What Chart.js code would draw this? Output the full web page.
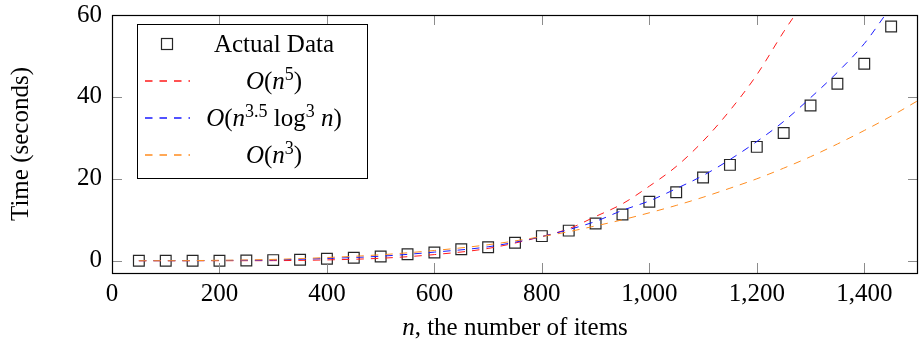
<!DOCTYPE html>
<html>
<head>
<meta charset="UTF-8">
<title>Time vs number of items</title>
<script src="https://cdn.jsdelivr.net/npm/chart.js"></script>
<style>
  *{padding:0;margin:0;}
  body{background:#fff;}
</style>
</head>
<body>
<canvas id="myChart" width="919" height="351"></canvas>
<script>
// measured run times (seconds) for n items
const sizes = [50,100,150,200,250,300,350,400,450,500,550,600,650,700,750,800,850,900,950,1000,1050,1100,1150,1200,1250,1300,1350,1400,1450];
const actualTimes = [0,0,0,0,0.07,0.15,0.25,0.5,0.73,1.05,1.6,2.0,2.8,3.3,4.4,6.0,7.35,9.1,11.3,14.4,16.7,20.3,23.4,27.8,31.2,37.9,43.2,48.1,57.2];

// fitted curves
const n5X = [50,100,200,300,400,500,600,700,800,850,900,950,1000,1050,1100,1150,1200,1250,1271];
const n5Y = [0,0,0,0.02,0.2,0.6,1.5,3.0,5.9,7.8,10.8,13.9,18.2,23.0,29.2,36.7,45.4,55.9,60];

const nlogX = [50,100,200,300,400,500,600,700,800,850,900,950,1000,1050,1100,1150,1200,1250,1300,1350,1400,1439];
const nlogY = [0,0,0.05,0.2,0.55,1.1,2.1,3.4,5.9,7.6,9.6,12.3,14.6,17.6,20.8,24.7,29.1,34.0,39.8,46.0,53.0,60];

const n3X = [50,100,200,300,400,500,600,700,800,850,900,950,1000,1050,1100,1150,1200,1250,1300,1350,1400,1450,1500];
const n3Y = [0,0,0.1,0.32,0.78,1.45,2.5,3.9,5.9,7.1,8.5,10.0,11.7,13.5,15.5,17.7,20.0,22.6,25.4,28.5,31.8,35.3,39.1];

const xTicks = [0,200,400,600,800,1000,1200,1400];
const yTicks = [0,20,40,60];

const RED = '#ff1a1a', BLUE = '#1a1aff', ORANGE = '#ff8c1f', MARK = '#262626';
const FONT = '"Liberation Serif", "Times New Roman", serif';
const FS = 25;

function pts(xs, ys){
  return xs.map((x,i) => ({x: x, y: ys[i]}));
}

// little helper for math-ish text: parts = [{t, it, sup}]
function fontFor(p){
  return (p.it ? 'italic ' : '') + (p.sup ? Math.round(FS*0.7) : FS) + 'px ' + FONT;
}
function drawParts(ctx, parts, cx, baseline){
  let w = 0;
  const ws = parts.map(p => { ctx.font = fontFor(p); const m = ctx.measureText(p.t).width; w += m; return m; });
  let x = cx - w/2;
  ctx.textAlign = 'left';
  ctx.textBaseline = 'alphabetic';
  parts.forEach((p, i) => {
    ctx.font = fontFor(p);
    ctx.fillText(p.t, x, baseline - (p.sup ? FS*0.38 : 0));
    x += ws[i];
  });
}

const legendRows = [
  [{t:'Actual Data'}],
  [{t:'O',it:true},{t:'('},{t:'n',it:true},{t:'5',sup:true},{t:')'}],
  [{t:'O',it:true},{t:'('},{t:'n',it:true},{t:'3.5',sup:true},{t:' log'},{t:'3',sup:true},{t:' '},{t:'n',it:true},{t:')'}],
  [{t:'O',it:true},{t:'('},{t:'n',it:true},{t:'3',sup:true},{t:')'}]
];
const legendColors = [MARK, RED, BLUE, ORANGE];

const framePlugin = {
  id: 'frame',
  afterDatasetsDraw(chart){
    const ctx = chart.ctx, a = chart.chartArea;
    const xs = chart.scales.x, ys = chart.scales.y;
    ctx.save();
    // inward tick marks on all four sides
    ctx.strokeStyle = '#8c8c8c';
    ctx.lineWidth = 1;
    ctx.beginPath();
    xTicks.forEach(v => {
      const px = Math.round(xs.getPixelForValue(v)) + 0.5;
      ctx.moveTo(px, a.bottom); ctx.lineTo(px, a.bottom - 10);
      ctx.moveTo(px, a.top); ctx.lineTo(px, a.top + 10);
    });
    yTicks.forEach(v => {
      const py = Math.round(ys.getPixelForValue(v)) + 0.5;
      ctx.moveTo(a.left, py); ctx.lineTo(a.left + 10, py);
      ctx.moveTo(a.right, py); ctx.lineTo(a.right - 10, py);
    });
    ctx.stroke();
    // box
    ctx.strokeStyle = '#000';
    ctx.lineWidth = 1.2;
    ctx.strokeRect(Math.round(a.left)+0.5, Math.round(a.top)+0.5, Math.round(a.right-a.left)-1, Math.round(a.bottom-a.top));

    // legend
    const lx = 137, ly = 24, lw = 230, lh = 154;
    ctx.fillStyle = '#fff';
    ctx.fillRect(lx, ly, lw, lh);
    ctx.strokeStyle = '#000';
    ctx.lineWidth = 1;
    ctx.strokeRect(lx+0.5, ly+0.5, lw, lh);
    const rowY = [44, 81, 118, 155];
    rowY.forEach((y, i) => {
      ctx.strokeStyle = legendColors[i];
      if (i === 0) {
        ctx.lineWidth = 1.2;
        ctx.strokeRect(161.5, y - 5.5, 11, 11);
      } else {
        ctx.lineWidth = 1.3;
        ctx.setLineDash([7.5, 7]);
        ctx.beginPath();
        ctx.moveTo(145, y); ctx.lineTo(190, y);
        ctx.stroke();
        ctx.setLineDash([]);
      }
      ctx.fillStyle = '#000';
      drawParts(ctx, legendRows[i], 274, y + 8);
    });

    // axis titles
    ctx.fillStyle = '#000';
    drawParts(ctx, [{t:'n',it:true},{t:', the number of items'}], (a.left + a.right)/2, 335);
    ctx.save();
    ctx.translate(21, (a.top + a.bottom)/2);
    ctx.rotate(-Math.PI/2);
    ctx.font = FS + 'px ' + FONT;
    ctx.textAlign = 'center';
    ctx.textBaseline = 'middle';
    ctx.fillText('Time (seconds)', 0, 0);
    ctx.restore();
    ctx.restore();
  }
};

function noPad(s){
  s.paddingTop = 0; s.paddingBottom = 0; s.paddingLeft = 0; s.paddingRight = 0;
}

const ctx = document.getElementById('myChart');
new Chart(ctx, {
  type: 'scatter',
  data: {
    datasets: [{
      label: 'Actual Data',
      data: pts(sizes, actualTimes),
      showLine: false,
      pointStyle: 'rect',
      pointRadius: 7.6,
      pointBorderWidth: 1.2,
      borderColor: MARK,
      backgroundColor: 'rgba(0,0,0,0)',
      order: 3
    }, {
      label: 'O(n^5)',
      data: pts(n5X, n5Y),
      showLine: true,
      pointRadius: 0,
      borderColor: RED,
      borderWidth: 1,
      borderDash: [7.5, 7],
      cubicInterpolationMode: 'monotone',
      order: 2
    }, {
      label: 'O(n^3.5 log^3 n)',
      data: pts(nlogX, nlogY),
      showLine: true,
      pointRadius: 0,
      borderColor: BLUE,
      borderWidth: 1,
      borderDash: [7.5, 7],
      cubicInterpolationMode: 'monotone',
      order: 1
    }, {
      label: 'O(n^3)',
      data: pts(n3X, n3Y),
      showLine: true,
      pointRadius: 0,
      borderColor: ORANGE,
      borderWidth: 1,
      borderDash: [7.5, 7],
      cubicInterpolationMode: 'monotone',
      order: 0
    }]
  },
  options: {
    responsive: false,
    animation: false,
    events: [],
    layout: { autoPadding: false, padding: { top: 15, right: 1, left: 0, bottom: 0 } },
    plugins: { legend: { display: false }, tooltip: { enabled: false } },
    scales: {
      x: {
        type: 'linear',
        min: 0, max: 1500,
        afterBuildTicks: s => { s.ticks = xTicks.map(v => ({value: v})); },
        afterFit: s => { s.height = 78; noPad(s); },
        grid: { display: false, drawTicks: false },
        border: { display: false },
        ticks: {
          padding: 6,
          color: '#000',
          maxRotation: 0,
          font: { family: FONT, size: FS },
          callback: v => v.toLocaleString('en-US')
        }
      },
      y: {
        type: 'linear',
        min: -3, max: 60,
        afterBuildTicks: s => { s.ticks = yTicks.map(v => ({value: v})); },
        afterFit: s => { s.width = 112; noPad(s); },
        grid: { display: false, drawTicks: false },
        border: { display: false },
        ticks: {
          padding: 10,
          color: '#000',
          font: { family: FONT, size: FS }
        }
      }
    }
  },
  plugins: [framePlugin]
});
</script>
</body>
</html>
